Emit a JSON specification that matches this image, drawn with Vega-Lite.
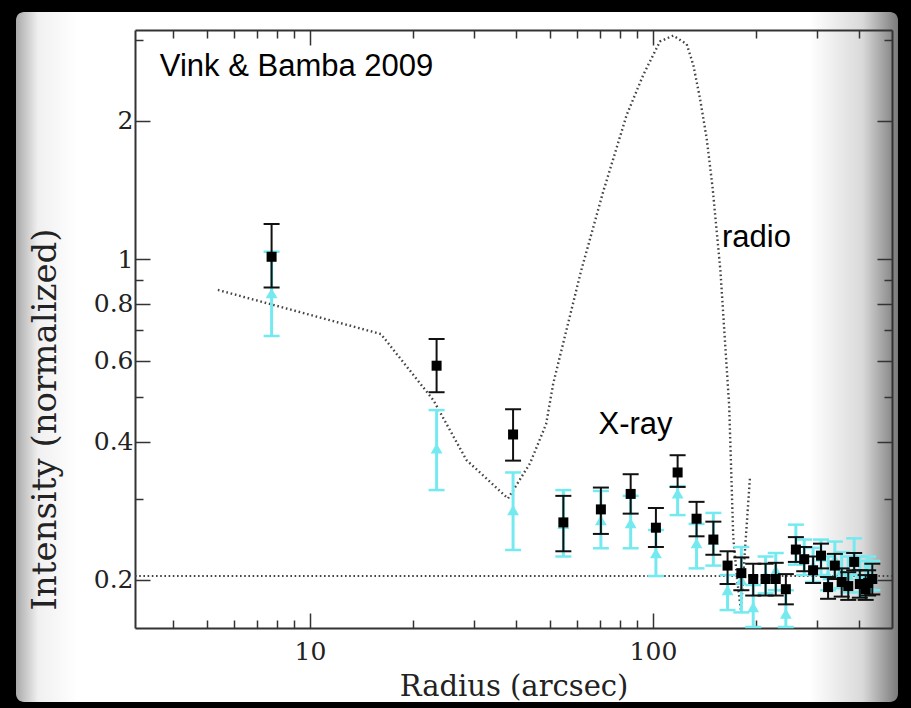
{
  "$schema": "https://vega.github.io/schema/vega-lite/v6.json",
  "width": 882,
  "height": 690,
  "autosize": {"type": "none"},
  "padding": {"left": 16, "top": 12, "right": 13, "bottom": 6},
  "background": "#000000",
  "config": {
    "view": {
      "stroke": null,
      "cornerRadius": 8,
      "fill": {"gradient": "linear", "x1": 0, "y1": 0, "x2": 1, "y2": 0,
        "stops": [
          {"offset": 0, "color": "#a9a9a9"},
          {"offset": 0.025, "color": "#f0f0f0"},
          {"offset": 0.07, "color": "#ffffff"},
          {"offset": 0.9, "color": "#ffffff"},
          {"offset": 0.96, "color": "#d9d9d9"},
          {"offset": 1, "color": "#7a7a7a"}
        ]}
    },
    "axis": {
      "grid": false,
      "domainColor": "#333333",
      "domainWidth": 2,
      "tickColor": "#333333",
      "tickWidth": 1.5,
      "labelFont": "DejaVu Serif",
      "labelFontSize": 25,
      "labelColor": "#222222",
      "labelOverlap": false,
      "labelFlush": false,
      "titleFont": "DejaVu Serif",
      "titleColor": "#222222",
      "titleFontWeight": "normal"
    }
  },
  "datasets": {
    "level": [{"r0": 3.09, "r1": 497.6, "i": 0.204}],
    "radio": [
      {"r": 5.39, "i": 0.857}, {"r": 16.1, "i": 0.687}, {"r": 22.9, "i": 0.493},
      {"r": 28.6, "i": 0.365}, {"r": 37.8, "i": 0.301}, {"r": 43.8, "i": 0.359},
      {"r": 48.8, "i": 0.437}, {"r": 51.2, "i": 0.536}, {"r": 61.7, "i": 0.942},
      {"r": 71.6, "i": 1.403}, {"r": 83.8, "i": 2.06}, {"r": 93.7, "i": 2.52},
      {"r": 104.8, "i": 2.98}, {"r": 114.6, "i": 3.07}, {"r": 125.4, "i": 2.94},
      {"r": 131.1, "i": 2.65}, {"r": 137.1, "i": 2.24}, {"r": 143.4, "i": 1.834},
      {"r": 149.3, "i": 1.427}, {"r": 157.3, "i": 0.942}, {"r": 166.8, "i": 0.479},
      {"r": 171.4, "i": 0.2485}, {"r": 176, "i": 0.2}, {"r": 180.5, "i": 0.172},
      {"r": 186, "i": 0.24}, {"r": 191.8, "i": 0.335}
    ],
    "black": [
      {"r": 7.73, "i": 1.012, "lo": 0.868, "hi": 1.193},
      {"r": 23.4, "i": 0.586, "lo": 0.513, "hi": 0.670},
      {"r": 39.1, "i": 0.415, "lo": 0.364, "hi": 0.471},
      {"r": 54.8, "i": 0.267, "lo": 0.231, "hi": 0.305},
      {"r": 70.5, "i": 0.285, "lo": 0.252, "hi": 0.318},
      {"r": 86.1, "i": 0.308, "lo": 0.279, "hi": 0.340},
      {"r": 102, "i": 0.260, "lo": 0.236, "hi": 0.287},
      {"r": 118, "i": 0.343, "lo": 0.319, "hi": 0.374},
      {"r": 134, "i": 0.272, "lo": 0.249, "hi": 0.296},
      {"r": 150, "i": 0.245, "lo": 0.227, "hi": 0.268},
      {"r": 165, "i": 0.215, "lo": 0.196, "hi": 0.231},
      {"r": 181, "i": 0.207, "lo": 0.190, "hi": 0.224},
      {"r": 196, "i": 0.201, "lo": 0.185, "hi": 0.217},
      {"r": 213, "i": 0.201, "lo": 0.185, "hi": 0.217},
      {"r": 228, "i": 0.201, "lo": 0.185, "hi": 0.218},
      {"r": 244, "i": 0.191, "lo": 0.177, "hi": 0.206},
      {"r": 261, "i": 0.233, "lo": 0.219, "hi": 0.248},
      {"r": 276, "i": 0.222, "lo": 0.209, "hi": 0.236},
      {"r": 293, "i": 0.210, "lo": 0.197, "hi": 0.225},
      {"r": 309, "i": 0.226, "lo": 0.212, "hi": 0.240},
      {"r": 324, "i": 0.193, "lo": 0.182, "hi": 0.203},
      {"r": 339, "i": 0.215, "lo": 0.201, "hi": 0.228},
      {"r": 355, "i": 0.198, "lo": 0.184, "hi": 0.212},
      {"r": 371, "i": 0.194, "lo": 0.181, "hi": 0.208},
      {"r": 386, "i": 0.219, "lo": 0.210, "hi": 0.229},
      {"r": 401, "i": 0.196, "lo": 0.183, "hi": 0.210},
      {"r": 417, "i": 0.191, "lo": 0.181, "hi": 0.205},
      {"r": 424, "i": 0.197, "lo": 0.185, "hi": 0.210},
      {"r": 436, "i": 0.201, "lo": 0.186, "hi": 0.217}
    ],
    "cyan": [
      {"r": 7.73, "i": 0.843, "lo": 0.68, "hi": 1.038},
      {"r": 23.4, "i": 0.387, "lo": 0.314, "hi": 0.469},
      {"r": 39.1, "i": 0.284, "lo": 0.2325, "hi": 0.343},
      {"r": 54.8, "i": 0.265, "lo": 0.225, "hi": 0.314},
      {"r": 70.5, "i": 0.270, "lo": 0.2345, "hi": 0.3126},
      {"r": 86.1, "i": 0.266, "lo": 0.2345, "hi": 0.305},
      {"r": 102, "i": 0.229, "lo": 0.204, "hi": 0.257},
      {"r": 118, "i": 0.309, "lo": 0.277, "hi": 0.32},
      {"r": 134, "i": 0.2405, "lo": 0.212, "hi": 0.265},
      {"r": 150, "i": 0.245, "lo": 0.215, "hi": 0.28},
      {"r": 165, "i": 0.190, "lo": 0.172, "hi": 0.205},
      {"r": 181, "i": 0.200, "lo": 0.17, "hi": 0.236},
      {"r": 196, "i": 0.1746, "lo": 0.158, "hi": 0.195},
      {"r": 213, "i": 0.205, "lo": 0.187, "hi": 0.225},
      {"r": 228, "i": 0.21, "lo": 0.19, "hi": 0.229},
      {"r": 244, "i": 0.169, "lo": 0.158, "hi": 0.19},
      {"r": 261, "i": 0.235, "lo": 0.216, "hi": 0.264},
      {"r": 276, "i": 0.225, "lo": 0.205, "hi": 0.245},
      {"r": 293, "i": 0.215, "lo": 0.198, "hi": 0.235},
      {"r": 309, "i": 0.225, "lo": 0.205, "hi": 0.245},
      {"r": 324, "i": 0.205, "lo": 0.19, "hi": 0.225},
      {"r": 339, "i": 0.222, "lo": 0.203, "hi": 0.2425},
      {"r": 355, "i": 0.21, "lo": 0.192, "hi": 0.23},
      {"r": 371, "i": 0.205, "lo": 0.188, "hi": 0.225},
      {"r": 386, "i": 0.225, "lo": 0.205, "hi": 0.2465},
      {"r": 401, "i": 0.205, "lo": 0.188, "hi": 0.225},
      {"r": 417, "i": 0.2, "lo": 0.185, "hi": 0.22},
      {"r": 424, "i": 0.205, "lo": 0.19, "hi": 0.225},
      {"r": 436, "i": 0.205, "lo": 0.19, "hi": 0.22}
    ],
    "notes": [
      {"r": 3.65, "i": 2.506, "text": "Vink & Bamba 2009"},
      {"r": 158.9, "i": 1.061, "text": "radio"},
      {"r": 69.4, "i": 0.4153, "text": "X-ray"}
    ]
  },
  "resolve": {"axis": {"x": "independent", "y": "independent"}},
  "layer": [
    {
      "data": {"name": "level"},
      "mark": {"type": "rule", "color": "#444444", "strokeWidth": 2, "strokeDash": [1.6, 2.6]},
      "encoding": {
        "x": {"field": "r0", "type": "quantitative",
          "scale": {"type": "log", "domain": [3.09, 497.6], "range": [119, 876], "nice": false},
          "axis": {"orient": "bottom", "offset": -74, "title": "Radius (arcsec)",
            "values": [4, 5, 6, 7, 8, 9, 10, 20, 30, 40, 50, 60, 70, 80, 90, 100, 200, 300, 400],
            "labelExpr": "datum.value == 10 || datum.value == 100 ? format(datum.value, 'd') : ''",
            "tickSize": {"condition": {"test": "datum.value == 10 || datum.value == 100", "value": -15}, "value": -8},
            "labelPadding": 26,
            "titleFontSize": 29, "titleBaseline": "alphabetic", "titleY": 67}},
        "x2": {"field": "r1"},
        "y": {"field": "i", "type": "quantitative",
          "scale": {"type": "log", "domain": [0.1572, 3.157], "range": [616, 18], "nice": false},
          "axis": {"orient": "left", "offset": -119, "title": "Intensity (normalized)",
            "values": [0.2, 0.3, 0.4, 0.5, 0.6, 0.7, 0.8, 0.9, 1, 2, 3],
            "labelExpr": "(datum.value == 0.2 || datum.value == 0.4 || datum.value == 0.6 || datum.value == 0.8 || datum.value == 1 || datum.value == 2) ? format(datum.value, '~g') : ''",
            "tickSize": {"condition": {"test": "datum.value == 0.2 || datum.value == 0.4 || datum.value == 0.6 || datum.value == 0.8 || datum.value == 1 || datum.value == 2", "value": -15}, "value": -8},
            "labelPadding": 17,
            "titleFontSize": 34, "titleBaseline": "alphabetic", "titleX": -80, "titleY": 407}}
      }
    },
    {
      "data": {"name": "radio"},
      "mark": {"type": "line", "color": "#444444", "strokeWidth": 2.4, "strokeDash": [1.6, 2.8]},
      "encoding": {
        "x": {"field": "r", "type": "quantitative",
          "scale": {"type": "log", "domain": [3.09, 497.6], "range": [119, 876], "nice": false},
          "axis": {"orient": "top", "offset": -18, "title": null, "labels": false,
            "values": [4, 5, 6, 7, 8, 9, 10, 20, 30, 40, 50, 60, 70, 80, 90, 100, 200, 300, 400],
            "tickSize": {"condition": {"test": "datum.value == 10 || datum.value == 100", "value": -15}, "value": -8}}},
        "y": {"field": "i", "type": "quantitative",
          "scale": {"type": "log", "domain": [0.1572, 3.157], "range": [616, 18], "nice": false},
          "axis": {"orient": "right", "offset": -6, "title": null, "labels": false,
            "values": [0.2, 0.3, 0.4, 0.5, 0.6, 0.7, 0.8, 0.9, 1, 2, 3],
            "tickSize": {"condition": {"test": "datum.value == 0.2 || datum.value == 0.4 || datum.value == 0.6 || datum.value == 0.8 || datum.value == 1 || datum.value == 2", "value": -15}, "value": -8}}}
      }
    },
    {
      "data": {"name": "cyan"},
      "mark": {"type": "rule", "color": "#74eaf0", "strokeWidth": 3},
      "encoding": {
        "x": {"field": "r", "type": "quantitative", "scale": {"type": "log"}, "axis": null},
        "y": {"field": "lo", "type": "quantitative", "scale": {"type": "log"}, "axis": null},
        "y2": {"field": "hi"}
      }
    },
    {
      "data": {"name": "cyan"},
      "mark": {"type": "tick", "orient": "horizontal", "color": "#74eaf0", "size": 16, "thickness": 2.5, "opacity": 1},
      "encoding": {
        "x": {"field": "r", "type": "quantitative", "scale": {"type": "log"}, "axis": null},
        "y": {"field": "lo", "type": "quantitative", "scale": {"type": "log"}, "axis": null}
      }
    },
    {
      "data": {"name": "cyan"},
      "mark": {"type": "tick", "orient": "horizontal", "color": "#74eaf0", "size": 16, "thickness": 2.5, "opacity": 1},
      "encoding": {
        "x": {"field": "r", "type": "quantitative", "scale": {"type": "log"}, "axis": null},
        "y": {"field": "hi", "type": "quantitative", "scale": {"type": "log"}, "axis": null}
      }
    },
    {
      "data": {"name": "cyan"},
      "mark": {"type": "point", "shape": "triangle-up", "filled": true, "color": "#74eaf0", "size": 140, "opacity": 1},
      "encoding": {
        "x": {"field": "r", "type": "quantitative", "scale": {"type": "log"}, "axis": null},
        "y": {"field": "i", "type": "quantitative", "scale": {"type": "log"}, "axis": null}
      }
    },
    {
      "data": {"name": "black"},
      "mark": {"type": "rule", "color": "#111111", "strokeWidth": 2},
      "encoding": {
        "x": {"field": "r", "type": "quantitative", "scale": {"type": "log"}, "axis": null},
        "y": {"field": "lo", "type": "quantitative", "scale": {"type": "log"}, "axis": null},
        "y2": {"field": "hi"}
      }
    },
    {
      "data": {"name": "black"},
      "mark": {"type": "tick", "orient": "horizontal", "color": "#111111", "size": 16, "thickness": 2, "opacity": 1},
      "encoding": {
        "x": {"field": "r", "type": "quantitative", "scale": {"type": "log"}, "axis": null},
        "y": {"field": "lo", "type": "quantitative", "scale": {"type": "log"}, "axis": null}
      }
    },
    {
      "data": {"name": "black"},
      "mark": {"type": "tick", "orient": "horizontal", "color": "#111111", "size": 16, "thickness": 2, "opacity": 1},
      "encoding": {
        "x": {"field": "r", "type": "quantitative", "scale": {"type": "log"}, "axis": null},
        "y": {"field": "hi", "type": "quantitative", "scale": {"type": "log"}, "axis": null}
      }
    },
    {
      "data": {"name": "black"},
      "mark": {"type": "point", "shape": "square", "filled": true, "color": "#000000", "size": 100, "opacity": 1},
      "encoding": {
        "x": {"field": "r", "type": "quantitative", "scale": {"type": "log"}, "axis": null},
        "y": {"field": "i", "type": "quantitative", "scale": {"type": "log"}, "axis": null}
      }
    },
    {
      "data": {"name": "notes"},
      "mark": {"type": "text", "font": "Liberation Sans", "fontSize": 31, "color": "#000000", "align": "left", "baseline": "alphabetic"},
      "encoding": {
        "x": {"field": "r", "type": "quantitative", "scale": {"type": "log"}, "axis": null},
        "y": {"field": "i", "type": "quantitative", "scale": {"type": "log"}, "axis": null},
        "text": {"field": "text"}
      }
    }
  ]
}
